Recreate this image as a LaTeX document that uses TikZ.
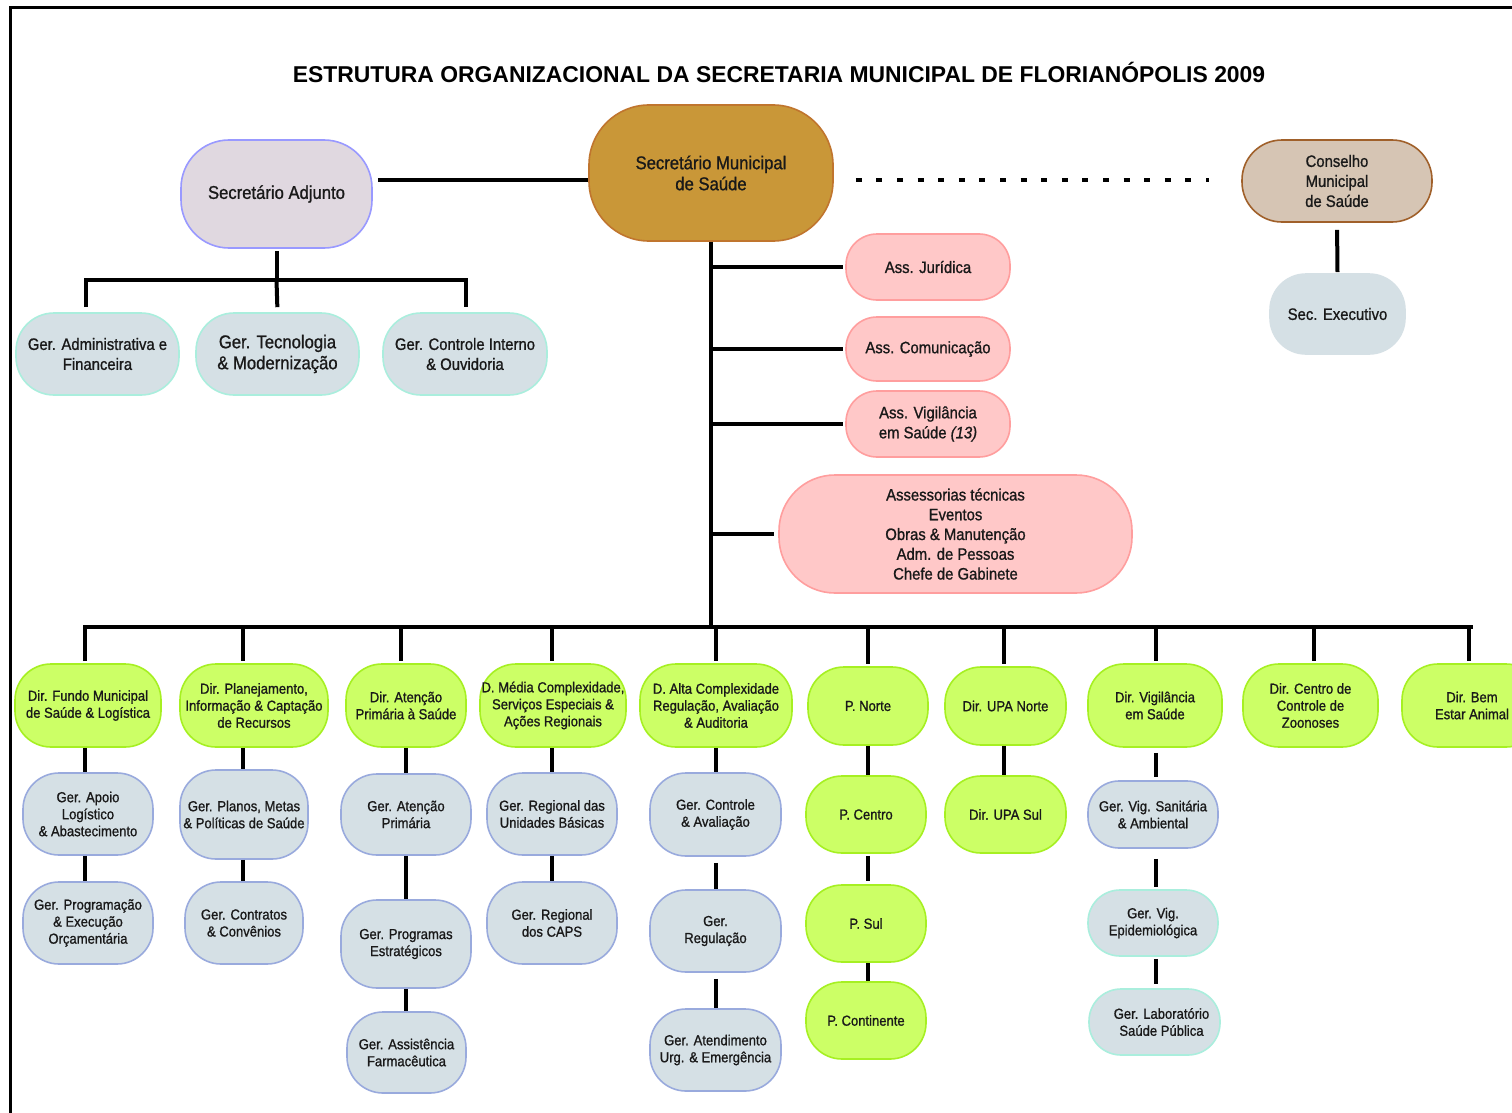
\documentclass[tikz,border=0pt]{standalone}
\usepackage{fontspec}
\setmainfont{Liberation Sans}
\newfontfamily\nf[FakeStretch=0.9,FakeBold=1.0]{Liberation Sans}
\newfontfamily\tf{Liberation Sans}
\definecolor{secfill}{HTML}{C99738}
\definecolor{secdraw}{HTML}{C0752E}
\definecolor{adjfill}{HTML}{E0D8E0}
\definecolor{adjdraw}{HTML}{9999FF}
\definecolor{consfill}{HTML}{D6C5B4}
\definecolor{consdraw}{HTML}{A0602A}
\definecolor{gfill}{HTML}{D5E0E5}
\definecolor{mint}{HTML}{AAEEDD}
\definecolor{peri}{HTML}{99AADD}
\definecolor{pfill}{HTML}{FFC8C8}
\definecolor{pdraw}{HTML}{FF9E9E}
\definecolor{grfill}{HTML}{CCFF66}
\definecolor{grdraw}{HTML}{A6F022}
\newcommand\fA{\nf\fontsize{18.5}{21}\selectfont}
\newcommand\fB{\nf\fontsize{16.5}{20}\selectfont}
\newcommand\fC{\nf\fontsize{14.5}{17}\selectfont}
\tikzset{
  sz/.style 2 args={minimum width=#1pt, minimum height=#2pt},
  box/.style={draw, line width=1.6pt, align=center, inner sep=0pt, text=black!90},
  secbox/.style={box, fill=secfill, draw=secdraw, rounded corners=60pt, font=\fA},
  adjbox/.style={box, fill=adjfill, draw=adjdraw, rounded corners=48pt, font=\fA},
  consbox/.style={box, fill=consfill, draw=consdraw, rounded corners=40pt, font=\fB},
  exebox/.style={box, fill=gfill, draw=gfill, rounded corners=36pt, font=\fB},
  mintbox/.style={box, fill=gfill, draw=mint, rounded corners=38pt, font=\fB},
  pinkbox/.style={box, fill=pfill, draw=pdraw, rounded corners=31pt, font=\fB},
  grbox/.style={box, fill=grfill, draw=grdraw, rounded corners=36pt, font=\fC},
  gbbox/.style={box, fill=gfill, draw=peri, rounded corners=36pt, font=\fC},
  gmbox/.style={box, fill=gfill, draw=mint, rounded corners=32pt, font=\fC},
  conn/.style={line width=4pt, black},
  drop/.style={line width=3.5pt, black},
  dotline/.style={line width=3.5pt, black, dash pattern=on 6pt off 14.6pt}
}
\begin{document}
\begin{tikzpicture}[x=1pt,y=-1pt]
\useasboundingbox (0,0) rectangle (1512,1113);
\clip (0,0) rectangle (1512,1113);
\fill[white] (0,0) rectangle (1512,1113);
\draw[line width=3pt] (10,1125) -- (10,8) -- (1525,8);

\node[font=\tf\bfseries\fontsize{22.9}{26}\selectfont] (title) at (779,72) {ESTRUTURA ORGANIZACIONAL DA SECRETARIA MUNICIPAL DE FLORIANÓPOLIS 2009};

% top level
\node[secbox, sz={244}{136}] (sec) at (711,173) {Secretário Municipal\\de Saúde};
\node[adjbox, sz={191}{108}] (adj) at (276.5,194) {Secretário Adjunto};
\node[consbox, sz={190}{82}] (cons) at (1337,181) {Conselho\\Municipal\\de Saúde};
\node[exebox, sz={135}{80}] (exe) at (1337.5,314) {Sec. Executivo};

\node[mintbox, sz={163}{82}] (adm) at (97.5,354) {Ger. Administrativa e\\Financeira};
\node[mintbox, sz={163}{82}, font=\fA] (tec) at (277.5,354) {Ger. Tecnologia\\\& Modernização};
\node[mintbox, sz={164}{82}] (cin) at (465,354) {Ger. Controle Interno\\\& Ouvidoria};

\node[pinkbox, sz={164}{66}] (jur) at (928,267) {Ass. Jurídica};
\node[pinkbox, sz={164}{64}] (com) at (928,349) {Ass. Comunicação};
\node[pinkbox, sz={164}{66}] (vig) at (928,424) {Ass. Vigilância\\em Saúde \textit{(13)}};
\node[pinkbox, sz={353}{118}, rounded corners=56pt, font=\nf\fontsize{16.5}{19.75}\selectfont] (ast) at (955.5,534) {Assessorias técnicas\\Eventos\\Obras \& Manutenção\\Adm. de Pessoas\\Chefe de Gabinete};

% directorates
\node[grbox, sz={146}{83}] (g1) at (88,705.5) {Dir. Fundo Municipal\\de Saúde \& Logística};
\node[grbox, sz={148}{83}] (g2) at (254,705.5) {Dir. Planejamento,\\Informação \& Captação\\de Recursos};
\node[grbox, sz={120}{83}] (g3) at (406,705.5) {Dir. Atenção\\Primária à Saúde};
\node[grbox, sz={146}{83}] (g4) at (553,705.5) {D. Média Complexidade,\\Serviços Especiais \&\\Ações Regionais};
\node[grbox, sz={152}{83}] (g5) at (716,705.5) {D. Alta Complexidade\\Regulação, Avaliação\\\& Auditoria};
\node[grbox, sz={120}{78}] (g6) at (868,706) {P. Norte};
\node[grbox, sz={121}{78}] (g7) at (1005.5,706) {Dir. UPA Norte};
\node[grbox, sz={134}{83}] (g8) at (1155,705.5) {Dir. Vigilância\\em Saúde};
\node[grbox, sz={135}{83}] (g9) at (1310.5,705.5) {Dir. Centro de\\Controle de\\Zoonoses};
\node[grbox, sz={140}{83}] (g10) at (1472,705.5) {Dir. Bem\\Estar Animal};

% second row
\node[gbbox, sz={130}{82}] (b1) at (88,814) {Ger. Apoio\\Logístico\\\& Abastecimento};
\node[gbbox, sz={128}{89}] (b2) at (244,814.5) {Ger. Planos, Metas\\\& Políticas de Saúde};
\node[gbbox, sz={130}{81}] (b3) at (406,814.5) {Ger. Atenção\\Primária};
\node[gbbox, sz={130}{82}] (b4) at (552,814) {Ger. Regional das\\Unidades Básicas};
\node[gbbox, sz={131}{83}] (b5) at (715.5,814.5) {Ger. Controle\\\&  Avaliação};
\node[grbox, sz={120}{77}] (g6b) at (866,814.5) {P. Centro};
\node[grbox, sz={121}{77}] (g7b) at (1005.5,814.5) {Dir. UPA Sul};
\node[gbbox, sz={130}{67}, rounded corners=31pt] (b8) at (1153,814.5) {Ger. Vig. Sanitária\\\& Ambiental};

% third row
\node[gbbox, sz={130}{82}] (c1) at (88,923) {Ger. Programação\\\& Execução\\Orçamentária};
\node[gbbox, sz={118}{82}] (c2) at (244,923) {Ger. Contratos\\\& Convênios};
\node[gbbox, sz={130}{88}] (c3) at (406,944) {Ger. Programas\\Estratégicos};
\node[gbbox, sz={130}{82}] (c4) at (552,923) {Ger. Regional\\dos CAPS};
\node[gbbox, sz={131}{82}] (c5) at (715.5,931) {Ger.\\Regulação};
\node[grbox, sz={120}{77}] (g6c) at (866,923.5) {P. Sul};
\node[gmbox, sz={130}{66}] (c8) at (1153,923) {Ger. Vig.\\Epidemiológica};

% fourth row
\node[gbbox, sz={119}{81}] (d3) at (406.5,1052.5) {Ger. Assistência\\Farmacêutica};
\node[gbbox, sz={131}{82}] (d5) at (715.5,1050) {Ger. Atendimento\\Urg. \& Emergência};
\node[grbox, sz={120}{77}] (g6d) at (866,1020.5) {P. Continente};
\node[gmbox, sz={131}{66}] (d8) at (1154.5,1022) {\hspace*{14pt}Ger. Laboratório\\\hspace*{14pt}Saúde Pública};

% coordinates
\coordinate (hh) at (0,180);
\coordinate (aL) at (86,280);
\coordinate (aM) at (276.5,280);
\coordinate (aR) at (466,280);
\coordinate (k1) at (85,627);
\coordinate (k2) at (243,627);
\coordinate (k3) at (401,627);
\coordinate (k4) at (552,627);
\coordinate (k5) at (716,627);
\coordinate (k6) at (868,627);
\coordinate (k7) at (1004,627);
\coordinate (k8) at (1156,627);
\coordinate (k9) at (1314,627);
\coordinate (k10) at (1469,627);
\coordinate (kE) at (1473,627);

% top connectors
\draw[conn, shorten <=5pt] (adj.east |- hh) -- (sec.west |- hh);
\draw[dotline, shorten <=22pt, shorten >=32pt] (sec.east |- hh) -- (cons.west |- hh);
\draw[conn, shorten <=7pt, shorten >=1pt] (cons.south) -- (exe.north);
\draw[conn, shorten <=2pt] (adj.south) -- (aM);
\draw[conn, shorten <=5pt, shorten >=5pt] (aL |- adm.north) -- (aL) -- (aR) -- (aR |- cin.north);
\draw[conn, shorten >=5pt] (aM) -- (tec.north);

% trunk and assistants
\draw[conn] (sec.south) -- (sec.south |- k1);
\draw[conn, shorten >=2pt] (sec.south |- jur.west) -- (jur.west);
\draw[conn, shorten >=2pt] (sec.south |- com.west) -- (com.west);
\draw[conn, shorten >=2pt] (sec.south |- vig.west) -- (vig.west);
\draw[conn, shorten >=4pt] (sec.south |- ast.west) -- (ast.west);

% bus
\draw[conn, shorten <=2pt] (k1 |- g1.north) -- (k1) -- (kE);
\foreach \k/\g in {k2/g2,k3/g3,k4/g4,k5/g5,k6/g6,k7/g7,k8/g8,k9/g9,k10/g10}
  \draw[drop, shorten >=2pt] (\k) -- (\k |- \g.north);

% columns
\draw[conn] (g1.south -| k1) -- (b1.north -| k1);
\draw[conn] (b1.south -| k1) -- (c1.north -| k1);
\draw[conn] (g2.south -| k2) -- (b2.north -| k2);
\draw[conn] (b2.south -| k2) -- (c2.north -| k2);
\draw[conn] (g3.south) -- (b3.north);
\draw[conn] (b3.south) -- (c3.north);
\draw[conn] (c3.south) -- (d3.north -| c3.south);
\draw[conn] (g4.south -| k4) -- (b4.north -| k4);
\draw[conn] (b4.south -| k4) -- (c4.north -| k4);
\draw[conn] (g5.south -| k5) -- (b5.north -| k5);
\draw[conn, shorten <=6pt] (b5.south -| k5) -- (c5.north -| k5);
\draw[conn, shorten <=6pt] (c5.south -| k5) -- (d5.north -| k5);
\draw[conn] (g6.south -| k6) -- (g6b.north -| k6);
\draw[conn, shorten <=2pt, shorten >=3pt] (g6b.south -| k6) -- (g6c.north -| k6);
\draw[conn] (g6c.south -| k6) -- (g6d.north -| k6);
\draw[conn] (g7.south -| k7) -- (g7b.north -| k7);
\draw[conn, shorten <=5pt, shorten >=3pt] (g8.south -| k8) -- (b8.north -| k8);
\draw[conn, shorten <=10pt, shorten >=2pt] (b8.south -| k8) -- (c8.north -| k8);
\draw[conn, shorten <=2pt, shorten >=4pt] (c8.south -| k8) -- (d8.north -| k8);
\end{tikzpicture}
\end{document}
